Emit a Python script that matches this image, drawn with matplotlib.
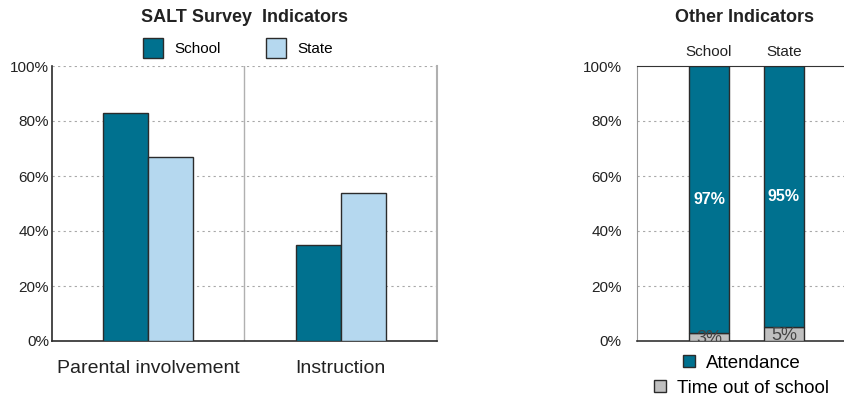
import matplotlib
matplotlib.use("Agg")
import matplotlib.pyplot as plt
from matplotlib.lines import Line2D
import numpy as np

plt.rcParams['font.family'] = ['Liberation Sans', 'DejaVu Sans']

# Data
salt_categories = ["Parental involvement", "Instruction"]
salt_school = [83, 35]
salt_state = [67, 54]
salt_series = ["School", "State"]

other_categories = ["School", "State"]
time_out = [3, 5]
attendance = [97, 95]
other_series = ["Attendance", "Time out of school"]

yticks = [0, 20, 40, 60, 80, 100]
ytick_labels = ["0%", "20%", "40%", "60%", "80%", "100%"]

TEAL = "#00718F"
LIGHT = "#B5D8EF"
GREY = "#C0C0C0"
EDGE = "#2b2b2b"
TXT = "#222222"
GRID = "#a8a8a8"

fig = plt.figure(figsize=(8.45, 4.0), dpi=100)

# ---------- Left chart ----------
ax = fig.add_axes([52/845, 59/400, 385/845, 275/400])
x = np.arange(len(salt_categories))
w = 0.234
ax.bar(x - w/2, salt_school, w, color=TEAL, edgecolor=EDGE, linewidth=1.0, zorder=3, label=salt_series[0])
ax.bar(x + w/2, salt_state, w, color=LIGHT, edgecolor=EDGE, linewidth=1.0, zorder=3, label=salt_series[1])
ax.set_xlim(-0.5, len(salt_categories) - 0.5)
ax.set_ylim(0, 100)
ax.set_yticks(yticks)
ax.set_yticklabels(ytick_labels, fontsize=11, color=TXT)
ax.set_xticks(x)
ax.set_xticklabels(salt_categories, fontsize=14, color=TXT)
ax.tick_params(axis='x', length=0, pad=14)
ax.tick_params(axis='y', length=0, pad=2)
for yv in yticks[1:]:
    ax.axhline(yv, color=GRID, linestyle=(0, (2, 3)), linewidth=0.8, zorder=1)
for xv in np.arange(0.5, len(salt_categories) - 0.5, 1.0):
    ax.axvline(xv, color="#b0b0b0", linewidth=1.0, zorder=1)
ax.spines['top'].set_visible(False)
ax.spines['right'].set_color("#b0b0b0")
ax.spines['right'].set_linewidth(1.5)
ax.spines['left'].set_color(EDGE)
ax.spines['bottom'].set_color(EDGE)
ax.spines['left'].set_linewidth(1.2)
ax.spines['bottom'].set_linewidth(1.2)
fig.text(245/845, 1 - 18/400, "SALT Survey  Indicators", ha='center', va='center', fontsize=13,
         fontweight='bold', color=TXT)
handles = [
    Line2D([], [], marker='s', linestyle='none', markersize=14, markerfacecolor=TEAL, markeredgecolor=EDGE, label=salt_series[0]),
    Line2D([], [], marker='s', linestyle='none', markersize=14, markerfacecolor=LIGHT, markeredgecolor=EDGE, label=salt_series[1]),
]
fig.legend(handles=handles, loc='center', bbox_to_anchor=(237/845, 1 - 49/400), ncol=2, frameon=False,
           fontsize=11, handlelength=1.6, handletextpad=0.6, columnspacing=2.8)

# ---------- Right chart ----------
ax2 = fig.add_axes([637/845, 59/400, 215/845, 275/400])
x2 = np.arange(len(other_categories))
w2 = 0.533
ax2.bar(x2, time_out, w2, color=GREY, edgecolor=EDGE, linewidth=1.0, zorder=3)
ax2.bar(x2, attendance, w2, bottom=time_out, color=TEAL, edgecolor=EDGE, linewidth=1.0, zorder=3)
ax2.set_xlim(-0.96, -0.96 + 215/75)
ax2.set_ylim(0, 100)
ax2.set_yticks(yticks)
ax2.set_yticklabels(ytick_labels, fontsize=11, color=TXT)
ax2.tick_params(axis='y', length=0, pad=11)
ax2.xaxis.tick_top()
ax2.set_xticks(x2)
ax2.set_xticklabels(other_categories, fontsize=11, color=TXT)
ax2.tick_params(axis='x', length=0, pad=5)
for yv in yticks[1:-1]:
    ax2.axhline(yv, color=GRID, linestyle=(0, (2, 3)), linewidth=0.8, zorder=1)
ax2.spines['right'].set_visible(False)
ax2.spines['top'].set_color("#333333")
ax2.spines['left'].set_color("#999999")
ax2.spines['bottom'].set_color("#333333")
ax2.spines['bottom'].set_linewidth(1.2)
for i in range(len(other_categories)):
    ax2.text(x2[i], time_out[i] + attendance[i] / 2, f"{attendance[i]}%", ha='center', va='center',
             color='white', fontsize=11.5, fontweight='bold', zorder=5)
    ax2.text(x2[i], time_out[i] / 2 - 0.6, f"{time_out[i]}%", ha='center', va='center',
             color="#444444", fontsize=13, zorder=5, clip_on=True)
fig.text(745/845, 1 - 18/400, "Other Indicators", ha='center', va='center', fontsize=13,
         fontweight='bold', color=TXT)
leg_colors = [TEAL, GREY]
leg_y = [363, 388]
for name, col, yy in zip(other_series, leg_colors, leg_y):
    h = [Line2D([], [], marker='s', linestyle='none', markersize=8, markerfacecolor=col,
                markeredgecolor=EDGE, label=name)]
    fig.legend(handles=h, loc='center', bbox_to_anchor=(741/845, 1 - yy/400), frameon=False,
               fontsize=13.5, handlelength=0.8, handletextpad=0.5, borderpad=0, borderaxespad=0)

fig.savefig("out.png", dpi=100)
